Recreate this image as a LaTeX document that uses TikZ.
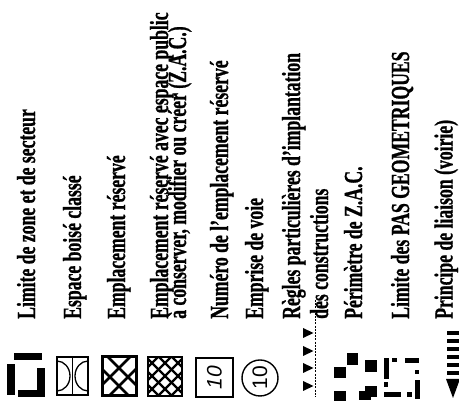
\documentclass[tikz,border=0pt]{standalone}
\usepackage{fontspec}
\setmainfont{Liberation Serif}[FakeStretch=0.68, BoldFeatures={FakeBold=0.8}]
\newfontfamily\numfont{Liberation Sans}
\tikzset{
  lbl/.style={rotate=90, anchor=base west, inner sep=0pt, font=\bfseries\fontsize{26}{26}\selectfont},
  num/.style={rotate=90, inner sep=0pt, font=\numfont\fontsize{21}{21}\selectfont},
  blk/.style={fill=black},
  thinbox/.style={draw=black, line width=1.4pt},
  lattice/.style={line width=2.6pt}
}
\begin{document}
\begin{tikzpicture}[x=1pt,y=-1pt]
\fill[white] (0,0) rectangle (459,411);
\useasboundingbox (0,0) rectangle (459,411);
% texts
\node[lbl] (t1) at (35,319) {Limite de zone et de secteur};
\node[lbl] (t2) at (81,319) {Espace boisé classé};
\node[lbl] (t3) at (125,319) {Emplacement réservé};
\node[lbl] (t4a) at (168,319) {Emplacement réservé avec espace public};
\node[lbl] (t4b) at (186,319) {à conserver, modifier ou créer (Z.A.C.)};
\node[lbl] (t5) at (228,319) {Numéro de l'emplacement réservé};
\node[lbl] (t6) at (263,319) {Emprise de voie};
\node[lbl] (t7a) at (300,319) {Règles particulières d'implantation};
\node[lbl] (t7b) at (328,319) {des constructions};
\node[lbl] (t8) at (362,319) {Périmètre de Z.A.C.};
\node[lbl] (t9) at (409,319) {Limite des PAS GEOMETRIQUES};
\node[lbl] (t10) at (452.5,319) {Principe de liaison (voirie)};
% 1 limite de zone
\fill[blk] (14,353) rectangle (42,360);
\fill[blk] (7,364) rectangle (15,395);
\fill[blk] (37,368) rectangle (45,397);
\fill[blk] (18,390) rectangle (45,397);
% 2 espace boise
\begin{scope}
\clip (57,357) rectangle (88,395);
\draw[line width=1.3pt] (57,376) ellipse [x radius=13, y radius=15];
\draw[line width=1.3pt] (88,376) ellipse [x radius=13, y radius=15];
\end{scope}
\draw[thinbox] (57,357) rectangle (88,395);
\draw[line width=1.3pt] (72.5,357) -- (72.5,395);
% 3 emplacement reserve
\begin{scope}
\clip (102,357) rectangle (136,396);
\foreach \c in {249,267} \draw[lattice] (90,90+\c) -- (150,150+\c);
\foreach \c in {487,505} \draw[lattice] (90,\c-90) -- (150,\c-150);
\end{scope}
\draw[line width=3pt] (102,357) rectangle (136,396);
% 4 emplacement avec espace public
\begin{scope}
\clip (148,357) rectangle (182,396);
\foreach \k in {-3,...,3} \draw[line width=2.2pt] (130,130+211+13*\k) -- (200,200+211+13*\k);
\foreach \k in {-3,...,3} \draw[line width=2.2pt] (130,541+13*\k-130) -- (200,541+13*\k-200);
\end{scope}
\draw[line width=2pt] (148,357) rectangle (182,396);
% 5 numero
\draw[thinbox] (196,358) rectangle (233,397);
\node[num, font=\numfont\itshape\fontsize{21}{21}\selectfont] (n5) at (214.5,377.5) {10};
% 6 emprise
\draw[thinbox] (260,378) circle [radius=18];
\node[num] (n6) at (260,378) {10};
% 7 regles
\draw[line width=0.8pt, dash pattern=on 2pt off 1.2pt] (315,300) -- (315,397);
\foreach \yc in {333,351,368,386} \fill[blk] (303,\yc-5) -- (303,\yc+5) -- (313.5,\yc) -- cycle;
% 8 perimetre ZAC
\fill[blk] (347,353) rectangle (358,365);
\fill[blk] (334,367) rectangle (346,378);
\fill[blk] (365,360) rectangle (377,372);
\fill[blk] (334,391) rectangle (346,401);
\fill[blk] (359,391) rectangle (371,400);
\fill[blk] (365,386) rectangle (377,397);
% 9 pas geometriques
\fill[blk] (384,358) rectangle (389,379);
\fill[blk] (384,382) rectangle (388,387);
\fill[blk] (392,358) rectangle (397,362);
\fill[blk] (405,358) rectangle (419,363);
\fill[blk] (415,370) rectangle (419,374);
\fill[blk] (415,380) rectangle (420,399);
\fill[blk] (384,392) rectangle (401,397);
\fill[blk] (407,392) rectangle (412,397);
% 10 liaison
\foreach \yb in {333,341,349,357,365,373} \fill[blk] (447,\yb-2) rectangle (459,\yb+2);
\fill[blk] (446,379) -- (460,379) -- (453,398) -- cycle;
\end{tikzpicture}
\end{document}
